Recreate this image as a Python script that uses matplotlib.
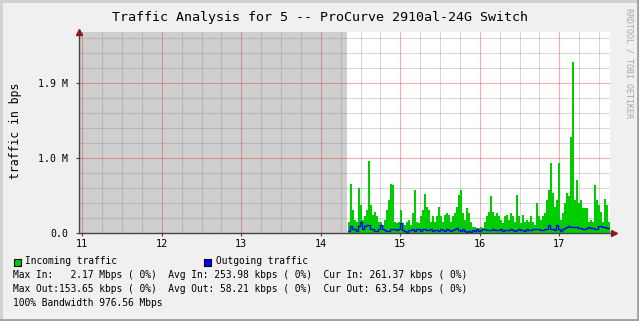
import matplotlib
matplotlib.use("Agg")
import matplotlib.pyplot as plt
import numpy as np

# ---- data ----
title = "Traffic Analysis for 5 -- ProCurve 2910al-24G Switch"
ylabel = "traffic in bps"
x_ticks = [11, 12, 13, 14, 15, 16, 17]
x_tick_labels = ["11", "12", "13", "14", "15", "16", "17"]
y_ticks = [0.0, 1.0e6, 2.0e6]
y_tick_labels = ["0.0", "1.0 M", "1.9 M"]
unknown_end = 14.333          # shaded (no data) region end
t_start = 14.342
t_step = 0.02516

incoming_M = [
    0.15, 0.65, 0.31, 0.17, 0.15, 0.60, 0.37, 0.17, 0.22, 0.31,
    0.96, 0.37, 0.24, 0.28, 0.22, 0.15, 0.15, 0.11, 0.17, 0.31,
    0.44, 0.66, 0.64, 0.15, 0.13, 0.15, 0.31, 0.13, 0.11, 0.15,
    0.17, 0.11, 0.26, 0.57, 0.15, 0.13, 0.22, 0.31, 0.52, 0.35,
    0.31, 0.15, 0.22, 0.15, 0.22, 0.35, 0.22, 0.15, 0.24, 0.26,
    0.24, 0.15, 0.22, 0.26, 0.35, 0.51, 0.58, 0.26, 0.17, 0.33,
    0.26, 0.15, 0.08, 0.08, 0.06, 0.06, 0.08, 0.06, 0.15, 0.22,
    0.28, 0.49, 0.28, 0.22, 0.26, 0.22, 0.17, 0.13, 0.22, 0.24,
    0.17, 0.26, 0.22, 0.15, 0.51, 0.22, 0.13, 0.24, 0.15, 0.17,
    0.15, 0.22, 0.15, 0.11, 0.40, 0.22, 0.17, 0.22, 0.26, 0.44,
    0.57, 0.94, 0.53, 0.35, 0.44, 0.93, 0.17, 0.26, 0.40, 0.53,
    0.49, 1.28, 2.28, 0.44, 0.71, 0.40, 0.44, 0.33, 0.33, 0.33,
    0.15, 0.17, 0.15, 0.64, 0.44, 0.37, 0.28, 0.15, 0.45, 0.37,
    0.15,
]
outgoing_M = [
    0.03, 0.09, 0.06, 0.06, 0.03, 0.09, 0.15, 0.06, 0.09, 0.11,
    0.11, 0.06, 0.06, 0.03, 0.03, 0.05, 0.11, 0.05, 0.04, 0.03,
    0.03, 0.06, 0.06, 0.05, 0.04, 0.06, 0.14, 0.04, 0.03, 0.02,
    0.04, 0.04, 0.06, 0.03, 0.05, 0.05, 0.03, 0.06, 0.06, 0.04,
    0.04, 0.05, 0.03, 0.04, 0.04, 0.03, 0.06, 0.04, 0.03, 0.05,
    0.04, 0.03, 0.04, 0.06, 0.07, 0.04, 0.03, 0.05, 0.03, 0.02,
    0.03, 0.02, 0.04, 0.03, 0.05, 0.03, 0.04, 0.05, 0.05, 0.04,
    0.04, 0.04, 0.05, 0.04, 0.04, 0.04, 0.05, 0.03, 0.04, 0.04,
    0.04, 0.05, 0.04, 0.03, 0.04, 0.05, 0.04, 0.04, 0.03, 0.05,
    0.04, 0.04, 0.05, 0.06, 0.05, 0.05, 0.04, 0.04, 0.06, 0.05,
    0.11, 0.05, 0.06, 0.04, 0.11, 0.06, 0.03, 0.06, 0.07, 0.08,
    0.09, 0.08, 0.08, 0.08, 0.08, 0.07, 0.07, 0.06, 0.06, 0.07,
    0.08, 0.07, 0.07, 0.06, 0.06, 0.09, 0.09, 0.08, 0.08, 0.07,
    0.07,
]
legend_series = ["Incoming traffic", "Outgoing traffic"]
legend_lines = [
    "Max In:   2.17 Mbps ( 0%)  Avg In: 253.98 kbps ( 0%)  Cur In: 261.37 kbps ( 0%)",
    "Max Out:153.65 kbps ( 0%)  Avg Out: 58.21 kbps ( 0%)  Cur Out: 63.54 kbps ( 0%)",
    "100% Bandwidth 976.56 Mbps",
]
watermark = "RRDTOOL / TOBI OETIKER"

# ---- figure ----
W, H = 639, 321
fig = plt.figure(figsize=(W / 100, H / 100), dpi=100)
fig.patch.set_facecolor("#f0f0f0")
mono = "DejaVu Sans Mono"

def fx(px):
    return px / W

def fy(py):
    return 1 - py / H

left_px, right_px, top_px, bot_px = 79, 610, 32, 233
ax = fig.add_axes([fx(left_px), fy(bot_px), (right_px - left_px) / W, (bot_px - top_px) / H])
ax.set_facecolor("white")

xmin = 11 + (left_px - 82.3) / 79.5
xmax = 11 + (right_px - 82.3) / 79.5
ax.set_xlim(xmin, xmax)
ax.set_ylim(0, 2.68e6)

# unknown region shading
ax.axvspan(xmin, unknown_end, color="#cfcfcf", zorder=0.5, lw=0)

# grid
for xv in np.arange(11, 17.7, 0.25):
    if abs(xv - round(xv)) < 1e-6:
        ax.axvline(xv, color=(0.9, 0.2, 0.2), alpha=0.4, lw=0.8, zorder=1)
    else:
        ax.axvline(xv, color=(0.5, 0.5, 0.5), alpha=0.3, lw=0.8, zorder=1)
for yv in np.arange(0.2e6, 2.7e6, 0.2e6):
    if abs(yv / 1e6 - round(yv / 1e6)) < 1e-6:
        ax.axhline(yv, color=(0.9, 0.2, 0.2), alpha=0.4, lw=0.8, zorder=1)
    else:
        ax.axhline(yv, color=(0.5, 0.5, 0.5), alpha=0.3, lw=0.8, zorder=1)

# data
n = len(incoming_M)
t = t_start + t_step * np.arange(n + 1)
inc = np.array(incoming_M + [incoming_M[-1]]) * 1e6
out = np.array(outgoing_M + [outgoing_M[-1]]) * 1e6
ax.fill_between(t, 0, inc, step="post", color="#00cc00", lw=0, zorder=2)
ax.step(t, out, where="post", color="#0000ff", lw=1.0, zorder=3)

# axes styling
for s in ["top", "right"]:
    ax.spines[s].set_visible(False)
for s in ["left", "bottom"]:
    ax.spines[s].set_color("#444444")
    ax.spines[s].set_linewidth(1.0)
    ax.spines[s].set_zorder(4)
ax.set_xticks(x_ticks)
ax.set_xticklabels(x_tick_labels, fontfamily=mono, fontsize=7.3)
ax.set_yticks(y_ticks)
ax.set_yticklabels(y_tick_labels, fontfamily=mono, fontsize=7.1)
ax.tick_params(axis="both", length=2, width=0.8, color="#444444", pad=2)
ax.tick_params(axis="y", pad=6)

# arrows
ax.plot([0], [1.0], marker="^", color="#8b1a1a", markersize=4, transform=ax.transAxes,
        clip_on=False, zorder=5)
ax.plot([1.008], [0.0], marker=">", color="#8b1a1a", markersize=4, transform=ax.transAxes,
        clip_on=False, zorder=5)

# texts
fig.text(fx(320), fy(17), title, ha="center", va="center", fontfamily=mono, fontsize=9.6,
         color="#000000")
fig.text(fx(16), fy(131), ylabel, ha="center", va="center", rotation=90, fontfamily=mono,
         fontsize=8.3)
fig.text(fx(629), fy(8), watermark, ha="center", va="top", rotation=-90, fontfamily=mono,
         fontsize=6, color="#a8a8a8")

# legend
sq = 7
fig.patches.append(plt.Rectangle((fx(13.5), fy(265.5)), sq / W, sq / H, transform=fig.transFigure,
                                 facecolor="#00cc00", edgecolor="black", lw=0.8))
fig.patches.append(plt.Rectangle((fx(204), fy(265.5)), sq / W, sq / H, transform=fig.transFigure,
                                 facecolor="#0000ff", edgecolor="black", lw=0.8))
fig.text(fx(25), fy(261.5), legend_series[0], ha="left", va="center", fontfamily=mono, fontsize=6.9)
fig.text(fx(215.5), fy(261.5), legend_series[1], ha="left", va="center", fontfamily=mono, fontsize=6.9)
for i, line in enumerate(legend_lines):
    fig.text(fx(13.3), fy(275.3 + 14.1 * i), line, ha="left", va="center", fontfamily=mono,
             fontsize=6.9)

# frame
fig.add_artist(plt.Line2D([0, 1], [fy(1), fy(1)], transform=fig.transFigure, color="#d0d0d0", lw=2))
fig.add_artist(plt.Line2D([fx(1), fx(1)], [0, 1], transform=fig.transFigure, color="#d0d0d0", lw=2))
fig.add_artist(plt.Line2D([0, 1], [fy(320), fy(320)], transform=fig.transFigure, color="#a0a0a0", lw=2))
fig.add_artist(plt.Line2D([fx(638), fx(638)], [0, 1], transform=fig.transFigure, color="#a0a0a0", lw=2))

fig.savefig("out.png", dpi=100, facecolor=fig.get_facecolor())
